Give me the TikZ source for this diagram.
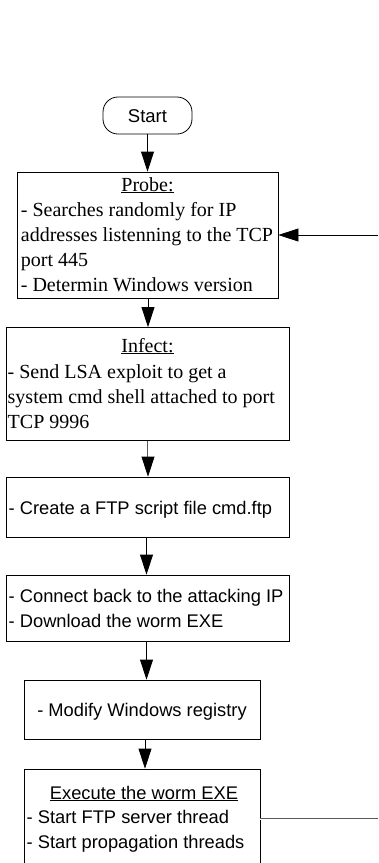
\documentclass[tikz,border=0pt]{standalone}
\usepackage{fontspec}
\setmainfont{Liberation Serif}
\newfontfamily\arialfam{Liberation Sans}
\usetikzlibrary{arrows.meta}

\begin{document}
\begin{tikzpicture}[x=1pt, y=-1pt,
  box/.style={draw, line width=0.8pt, inner sep=0pt},
  terminal/.style={draw, line width=0.8pt, rounded corners=15pt, inner sep=0pt,
    font=\arialfam\fontsize{18.5}{22}\selectfont, text height=13.2pt, text depth=0pt},
  sertext/.style={font=\fontsize{20}{25}\selectfont, inner sep=0pt, align=left},
  santext/.style={font=\arialfam\fontsize{18.3}{25}\selectfont, inner sep=0pt, align=left},
  arr/.style={line width=0.8pt, -{Triangle[length=20pt, width=13pt]}},
  dbl/.style={draw=black!65, line width=0.5pt, double=white, double distance=1pt},
]
\useasboundingbox (0,0) rectangle (378,863);
\clip (0,0) rectangle (378,863);

% arrow axes
\coordinate (ax1) at (148,0);
\coordinate (ax2) at (146.5,0);
\coordinate (ax3) at (145,0);

% boxes
\node[terminal, minimum width=89pt, minimum height=37pt] (start) at (147.5,115.5) {Start};
\node[box, minimum width=261pt, minimum height=126pt] (probe) at (147.5,235) {};
\node[box, minimum width=283pt, minimum height=113pt] (infect) at (147.5,384) {};
\node[box, minimum width=283pt, minimum height=60pt] (ftp) at (147.5,507) {};
\node[box, minimum width=283pt, minimum height=66pt] (connect) at (147.5,608) {};
\node[box, minimum width=236pt, minimum height=59pt] (modify) at (142,709.5) {};
\node[box, minimum width=236pt, minimum height=98pt] (exec) at (142,818) {};

% box texts (multi-line blocks are placed by their last baseline)
\node[sertext, anchor=base] (probehead) at (147.5,191) {\underline{Probe:}};
\node[sertext, anchor=base west] (probebody) at (20.7,291)
  {- Searches randomly for IP\\addresses listenning to the TCP\\port 445\\- Determin Windows version};
\node[sertext, anchor=base] (infecthead) at (147.5,352) {\underline{Infect:}};
\node[sertext, anchor=base west] (infectbody) at (7.5,428)
  {- Send LSA exploit to get a\\system cmd shell attached to port\\TCP 9996};
\node[santext, anchor=base west] (ftptext) at (8.5,514) {- Create a FTP script file cmd.ftp};
\node[santext, anchor=base west] (connbody) at (8.5,627)
  {- Connect back to the attacking IP\\- Download the worm EXE};
\node[santext, anchor=base] (modtext) at (142,716) {- Modify Windows registry};
\node[santext, anchor=base] (exechead) at (144,799) {\underline{Execute the worm EXE}};
\node[santext, anchor=base west] (execbody) at (26.5,848)
  {- Start FTP server thread\\- Start propagation threads};

% flow connectors
\draw[arr] (start.south) -- (start.south |- probe.north);
\draw[arr] (probe.south -| ax1) -- (infect.north -| ax1);
\draw[dbl] (infect.south -| ax1) -- ([yshift=19pt]ftp.north -| ax1);
\draw[arr] ([yshift=20pt]ftp.north -| ax1) -- (ftp.north -| ax1);
\draw[arr] (ftp.south -| ax2) -- (connect.north -| ax2);
\draw[arr] (connect.south -| ax2) -- (modify.north -| ax2);
\draw[arr] (modify.south -| ax3) -- (exec.north -| ax3);

% external links
\coordinate (feed) at (378,235);
\coordinate (spawn) at (378,819);
\draw[arr] (feed) -- (probe.east |- feed);
\draw[dbl] (exec.east |- spawn) -- (spawn);
\end{tikzpicture}
\end{document}
